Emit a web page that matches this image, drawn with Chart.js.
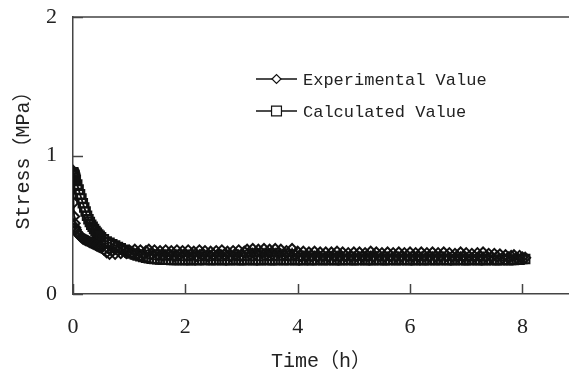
<!DOCTYPE html>
<html>
<head>
<meta charset="utf-8">
<script src="https://cdn.jsdelivr.net/npm/chart.js@4.4.1/dist/chart.umd.min.js"></script>
<style>
  html, body { margin: 0; padding: 0; background: #fff; }
  #wrap { width: 569px; height: 374px; }
</style>
</head>
<body>
<div id="wrap"><canvas id="chart" width="569" height="374"></canvas></div>
<script>
// time (h)
const times = [
  0, 0.01, 0.02, 0.03, 0.04, 0.05,
  0.075, 0.1, 0.125, 0.15, 0.175, 0.2, 0.225, 0.25, 0.275, 0.3,
  0.325, 0.35, 0.375, 0.4, 0.425, 0.45, 0.475, 0.5,
  0.55, 0.6, 0.65, 0.7, 0.75, 0.8, 0.85, 0.9, 0.95, 1,
  1.05, 1.1, 1.15, 1.2, 1.25, 1.3, 1.35, 1.4, 1.45, 1.5,
  1.55, 1.6, 1.65, 1.7, 1.75, 1.8, 1.85, 1.9, 1.95, 2,
  2.05, 2.1, 2.15, 2.2, 2.25, 2.3, 2.35, 2.4, 2.45, 2.5,
  2.55, 2.6, 2.65, 2.7, 2.75, 2.8, 2.85, 2.9, 2.95, 3,
  3.05, 3.1, 3.15, 3.2, 3.25, 3.3, 3.35, 3.4, 3.45, 3.5,
  3.55, 3.6, 3.65, 3.7, 3.75, 3.8, 3.85, 3.9, 3.95, 4,
  4.05, 4.1, 4.15, 4.2, 4.25, 4.3, 4.35, 4.4, 4.45, 4.5,
  4.55, 4.6, 4.65, 4.7, 4.75, 4.8, 4.85, 4.9, 4.95, 5,
  5.05, 5.1, 5.15, 5.2, 5.25, 5.3, 5.35, 5.4, 5.45, 5.5,
  5.55, 5.6, 5.65, 5.7, 5.75, 5.8, 5.85, 5.9, 5.95, 6,
  6.05, 6.1, 6.15, 6.2, 6.25, 6.3, 6.35, 6.4, 6.45, 6.5,
  6.55, 6.6, 6.65, 6.7, 6.75, 6.8, 6.85, 6.9, 6.95, 7,
  7.05, 7.1, 7.15, 7.2, 7.25, 7.3, 7.35, 7.4, 7.45, 7.5,
  7.55, 7.6, 7.65, 7.7, 7.75, 7.8, 7.85, 7.9, 7.95, 8,
  8.05
];

// stress (MPa)
const experimental = [
  0.89, 0.66, 0.56, 0.51, 0.48, 0.465,
  0.445, 0.43, 0.42, 0.41, 0.4, 0.395, 0.39, 0.385, 0.38, 0.375,
  0.37, 0.365, 0.36, 0.355, 0.35, 0.345, 0.34, 0.335,
  0.32, 0.3, 0.29, 0.31, 0.29, 0.315, 0.295, 0.32, 0.295, 0.315,
  0.29, 0.32, 0.295, 0.315, 0.285, 0.31, 0.32, 0.29, 0.315, 0.285,
  0.31, 0.28, 0.315, 0.285, 0.31, 0.275, 0.315, 0.285, 0.31, 0.28,
  0.315, 0.285, 0.305, 0.275, 0.315, 0.285, 0.31, 0.275, 0.305, 0.285,
  0.31, 0.28, 0.315, 0.285, 0.305, 0.275, 0.31, 0.285, 0.315, 0.28,
  0.305, 0.32, 0.285, 0.325, 0.29, 0.32, 0.295, 0.325, 0.285, 0.32,
  0.29, 0.325, 0.295, 0.32, 0.285, 0.31, 0.28, 0.325, 0.285, 0.305,
  0.275, 0.305, 0.27, 0.3, 0.275, 0.305, 0.27, 0.3, 0.275, 0.3,
  0.27, 0.3, 0.275, 0.305, 0.27, 0.3, 0.275, 0.295, 0.27, 0.3,
  0.275, 0.3, 0.27, 0.295, 0.275, 0.305, 0.27, 0.3, 0.275, 0.295,
  0.27, 0.3, 0.275, 0.295, 0.27, 0.3, 0.27, 0.295, 0.275, 0.3,
  0.27, 0.295, 0.27, 0.3, 0.275, 0.295, 0.27, 0.3, 0.27, 0.295,
  0.27, 0.3, 0.275, 0.295, 0.27, 0.29, 0.27, 0.3, 0.27, 0.295,
  0.27, 0.29, 0.27, 0.295, 0.27, 0.3, 0.27, 0.29, 0.265, 0.29,
  0.27, 0.285, 0.26, 0.28, 0.265, 0.275, 0.28, 0.26, 0.275, 0.265,
  0.262
];

const calculated = [
  0.88, 0.875, 0.865, 0.855, 0.84, 0.825,
  0.79, 0.755, 0.72, 0.69, 0.655, 0.625, 0.595, 0.565, 0.54, 0.52,
  0.5, 0.485, 0.47, 0.455, 0.442, 0.43, 0.42, 0.41,
  0.395, 0.38, 0.37, 0.36, 0.35, 0.34, 0.33, 0.32, 0.31, 0.3,
  0.292, 0.285, 0.278, 0.272, 0.267, 0.262, 0.258, 0.255, 0.252, 0.25,
  0.249, 0.248, 0.247, 0.247, 0.246, 0.246, 0.245, 0.245, 0.245, 0.245,
  0.246, 0.243, 0.248, 0.245, 0.243, 0.247, 0.245, 0.248, 0.243, 0.246,
  0.245, 0.248, 0.243, 0.246, 0.245, 0.243, 0.248, 0.245, 0.246, 0.243,
  0.246, 0.245, 0.248, 0.243, 0.246, 0.245, 0.243, 0.248, 0.245, 0.246,
  0.243, 0.246, 0.245, 0.248, 0.243, 0.246, 0.245, 0.248, 0.243, 0.245,
  0.246, 0.243, 0.248, 0.245, 0.243, 0.246, 0.245, 0.248, 0.243, 0.246,
  0.245, 0.248, 0.243, 0.246, 0.245, 0.243, 0.248, 0.245, 0.246, 0.243,
  0.246, 0.245, 0.248, 0.243, 0.246, 0.245, 0.243, 0.248, 0.245, 0.246,
  0.243, 0.246, 0.245, 0.248, 0.243, 0.246, 0.245, 0.248, 0.243, 0.245,
  0.246, 0.243, 0.248, 0.245, 0.243, 0.246, 0.245, 0.248, 0.243, 0.246,
  0.245, 0.248, 0.243, 0.246, 0.245, 0.243, 0.248, 0.245, 0.246, 0.243,
  0.246, 0.245, 0.248, 0.243, 0.246, 0.245, 0.243, 0.248, 0.245, 0.246,
  0.243, 0.246, 0.245, 0.248, 0.243, 0.246, 0.245, 0.25, 0.247, 0.252,
  0.252
];

const xTicks = [0, 2, 4, 6, 8];
const yTicks = [0, 1, 2];
const seriesNames = ["Experimental Value", "Calculated Value"];

const axisColor = "#444";
const monoFont = "'Liberation Mono', 'Noto Sans CJK SC', monospace";
const numFont = "'Liberation Serif', serif";

const toPoints = (ys) => times.map((t, i) => ({ x: t, y: ys[i] }));

// top border, inward tick marks and the legend
const frame = {
  id: "frame",
  afterDraw(chart) {
    const { ctx, chartArea: a, scales } = chart;
    const x = scales.x, y = scales.y;
    ctx.save();
    ctx.strokeStyle = axisColor;
    ctx.lineWidth = 1.5;
    ctx.beginPath();
    ctx.moveTo(a.left, a.top);
    ctx.lineTo(a.right, a.top);
    xTicks.forEach((v) => {
      const px = Math.round(x.getPixelForValue(v)) + 0.5;
      ctx.moveTo(px, a.bottom);
      ctx.lineTo(px, a.bottom - 10);
    });
    yTicks.forEach((v) => {
      const py = Math.round(y.getPixelForValue(v)) + 0.5;
      ctx.moveTo(a.left, py);
      ctx.lineTo(a.left + 10, py);
    });
    ctx.stroke();

    // legend
    const rows = [79, 111];
    const styles = ["rectRot", "rect"];
    const radii = [4.5, 7];
    ctx.font = "17px " + monoFont;
    ctx.textBaseline = "middle";
    rows.forEach((ry, i) => {
      ctx.strokeStyle = "#111";
      ctx.lineWidth = 1.5;
      ctx.beginPath();
      ctx.moveTo(256, ry);
      ctx.lineTo(297, ry);
      ctx.stroke();
      ctx.fillStyle = "#fff";
      ctx.lineWidth = 1.2;
      Chart.helpers.drawPoint(ctx, { pointStyle: styles[i], radius: radii[i], rotation: 0, borderWidth: 1.2 }, 276.5, ry);
      ctx.fillStyle = "#222";
      ctx.fillText(seriesNames[i], 303, ry + 1);
    });
    ctx.restore();
  },
};

new Chart(document.getElementById("chart"), {
  type: "scatter",
  data: {
    datasets: [
      {
        label: seriesNames[0],
        data: toPoints(experimental),
        showLine: true,
        borderColor: "#111",
        borderWidth: 1.8,
        pointStyle: "rectRot",
        pointRadius: 5,
        pointBorderWidth: 2,
        pointBorderColor: "#111",
        pointBackgroundColor: "rgba(0,0,0,0)",
      },
      {
        label: seriesNames[1],
        data: toPoints(calculated),
        showLine: true,
        borderColor: "#111",
        borderWidth: 1.8,
        pointStyle: "rect",
        pointRadius: 6,
        pointBorderWidth: 2,
        pointBorderColor: "#111",
        pointBackgroundColor: "rgba(0,0,0,0)",
      },
    ],
  },
  options: {
    responsive: false,
    animation: false,
    layout: { autoPadding: false, padding: { top: 17, right: 0, left: 0, bottom: 0 } },
    plugins: { legend: { display: false }, tooltip: { enabled: false } },
    scales: {
      x: {
        type: "linear",
        min: 0,
        max: 8.83,
        afterFit: (s) => { s.height = 80; s.paddingLeft = 0; s.paddingRight = 0; },
        afterBuildTicks: (s) => { s.ticks = xTicks.map((v) => ({ value: v })); },
        grid: { display: false, drawTicks: false },
        border: { display: true, color: axisColor, width: 1.5 },
        ticks: { color: "#222", font: { family: numFont, size: 22 }, padding: 20, maxRotation: 0 },
        title: { display: true, text: "Time（h）", color: "#222", font: { family: monoFont, size: 20 }, padding: { top: 0, bottom: 0 } },
      },
      y: {
        type: "linear",
        min: 0,
        max: 2,
        afterFit: (s) => { s.width = 73; s.paddingTop = 0; s.paddingBottom = 0; },
        afterBuildTicks: (s) => { s.ticks = yTicks.map((v) => ({ value: v })); },
        grid: { display: false, drawTicks: false },
        border: { display: true, color: axisColor, width: 1.5 },
        ticks: { color: "#222", font: { family: numFont, size: 22 }, padding: 16 },
        title: { display: true, text: "Stress（MPa）", color: "#222", font: { family: monoFont, size: 20 }, padding: { top: 12, bottom: 0 } },
      },
    },
  },
  plugins: [frame],
});
</script>
</body>
</html>
